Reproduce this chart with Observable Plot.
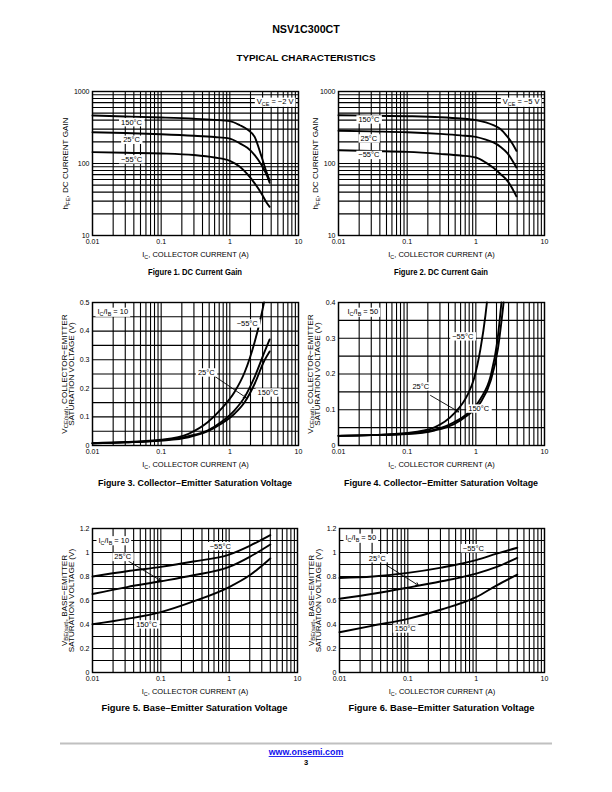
<!DOCTYPE html>
<html>
<head>
<meta charset="utf-8">
<script src="https://cdn.jsdelivr.net/npm/d3@7"></script>
<script src="https://cdn.jsdelivr.net/npm/@observablehq/plot@0.6"></script>
<style>
  html, body { margin: 0; padding: 0; background: #fff; }
  #page { position: relative; width: 612px; height: 792px; overflow: hidden; background: #fff; }
</style>
</head>
<body>
<div id="page"></div>
<script>
// ---------------- data ----------------
const icTicks = [0.01, 0.1, 1, 10];
const icTickLabels = ["0.01", "0.1", "1", "10"];
const icGrid = [0.01, 0.02, 0.03, 0.04, 0.05, 0.06, 0.07, 0.08, 0.09,
  0.1, 0.2, 0.3, 0.4, 0.5, 0.6, 0.7, 0.8, 0.9,
  1, 2, 3, 4, 5, 6, 7, 8, 9, 10];

const hfeTicks = [10, 100, 1000];
const hfeTickLabels = ["10", "100", "1000"];
const hfeGrid = [10, 20, 30, 40, 50, 60, 70, 80, 90, 100, 200, 300, 400, 500, 600, 700, 800, 900, 1000];

const vce10Ticks = [0, 0.1, 0.2, 0.3, 0.4, 0.5];
const vce10TickLabels = ["0", "0.1", "0.2", "0.3", "0.4", "0.5"];
const vce10Grid = [0, 0.05, 0.1, 0.15, 0.2, 0.25, 0.3, 0.35, 0.4, 0.45, 0.5];

const vce50Ticks = [0, 0.1, 0.2, 0.3, 0.4];
const vce50TickLabels = ["0", "0.1", "0.2", "0.3", "0.4"];
const vce50Grid = [0, 0.05, 0.1, 0.15, 0.2, 0.25, 0.3, 0.35, 0.4];

const vbeTicks = [0, 0.2, 0.4, 0.6, 0.8, 1, 1.2];
const vbeTickLabels = ["0", "0.2", "0.4", "0.6", "0.8", "1", "1.2"];
const vbeGrid = [0, 0.1, 0.2, 0.3, 0.4, 0.5, 0.6, 0.7, 0.8, 0.9, 1, 1.1, 1.2];

const tempLabels = ["150°C", "25°C", "−55°C"];

// Figure 1: hFE, VCE = -2 V
const fig1_ic = [0.01, 0.03, 0.1, 0.3, 0.6, 1, 1.4, 1.8, 2.3, 2.9, 3.4, 3.8];
const fig1_hfe_150 = [464, 450, 435, 418, 403, 387, 340, 297, 234, 124, 77, 58];
const fig1_hfe_25 = [272, 265, 255, 243, 233, 222, 190, 165, 131, 95, 71, 54];
const fig1_hfe_m55 = [144, 141, 138, 131, 121, 109, 90, 71, 53, 38, 29, 25];
const fig1_label_x = [0.037, 0.037, 0.037];
const fig1_label_y = [373, 213, 114];

// Figure 2: hFE, VCE = -5 V
const fig2_ic = [0.01, 0.03, 0.1, 0.3, 0.6, 1, 1.4, 1.8, 2.3, 2.9, 3.4, 3.9];
const fig2_hfe_150 = [469, 462, 454, 440, 422, 400, 372, 340, 300, 234, 190, 150];
const fig2_hfe_25 = [285, 279, 272, 258, 246, 234, 214, 196, 170, 138, 110, 88];
const fig2_hfe_m55 = [153, 149, 145, 136, 129, 121, 103, 87, 71, 57, 45, 35];
const fig2_label_x = [0.0277, 0.0277, 0.0277];
const fig2_label_y = [408, 222, 131];

// Figure 3: VCE(sat), IC/IB = 10
const fig3_ic_m55 = [0.01, 0.03, 0.1, 0.25, 0.48, 0.75, 1.17, 1.65, 2.3, 2.73, 3.15];
const fig3_v_m55 = [0.008, 0.012, 0.02, 0.041, 0.082, 0.128, 0.187, 0.257, 0.362, 0.432, 0.5];
const fig3_ic = [0.01, 0.03, 0.1, 0.25, 0.48, 0.75, 1.17, 1.65, 2.3, 3.2, 3.8];
const fig3_v_25 = [0.008, 0.011, 0.018, 0.033, 0.053, 0.082, 0.123, 0.17, 0.24, 0.327, 0.371];
const fig3_v_150 = [0.008, 0.011, 0.017, 0.029, 0.05, 0.076, 0.111, 0.152, 0.216, 0.298, 0.329];
const fig3_label_x = [3.6, 0.454, 1.79];
const fig3_label_y = [0.185, 0.255, 0.4266];
const fig3_arrow = [0.61, 0.241, 1.73, 0.167];

// Figure 4: VCE(sat), IC/IB = 50
const fig4_ic_m55 = [0.01, 0.03, 0.1, 0.25, 0.48, 0.75, 0.94, 1.17, 1.38, 1.45];
const fig4_v_m55 = [0.027, 0.029, 0.035, 0.051, 0.089, 0.14, 0.187, 0.271, 0.364, 0.4];
const fig4_ic_25 = [0.01, 0.03, 0.1, 0.25, 0.48, 0.75, 1.17, 1.65, 2.05, 2.36];
const fig4_v_25 = [0.027, 0.029, 0.033, 0.044, 0.065, 0.089, 0.131, 0.196, 0.29, 0.4];
const fig4_ic_150 = [0.01, 0.03, 0.1, 0.25, 0.48, 0.75, 1.17, 1.65, 2.1, 2.54];
const fig4_v_150 = [0.027, 0.029, 0.032, 0.042, 0.06, 0.084, 0.12, 0.182, 0.271, 0.4];
const fig4_label_x = [1.1, 0.158, 0.646];
const fig4_label_y = [0.103, 0.165, 0.305];
const fig4_arrow = [0.219, 0.14, 0.564, 0.094];

// Figure 5: VBE(sat), IC/IB = 10
const fig5_ic = [0.01, 0.032, 0.1, 0.3, 1, 2, 4];
const fig5_v_m55 = [0.80, 0.844, 0.88, 0.925, 0.983, 1.056, 1.145];
const fig5_v_25 = [0.654, 0.712, 0.76, 0.81, 0.88, 0.964, 1.067];
const fig5_v_150 = [0.402, 0.447, 0.503, 0.592, 0.712, 0.81, 0.95];
const fig5_label_x = [0.062, 0.0277, 0.74];
const fig5_label_y = [0.40, 0.962, 1.052];
const fig5_arrow = [0.034, 0.926, 0.099, 0.767];

// Figure 6: VBE(sat), IC/IB = 50
const fig6_ic = [0.01, 0.031, 0.1, 0.31, 1, 2, 4];
const fig6_v_m55 = [0.788, 0.80, 0.83, 0.874, 0.936, 0.99, 1.04];
const fig6_v_25 = [0.615, 0.656, 0.707, 0.76, 0.824, 0.88, 0.955];
const fig6_v_150 = [0.335, 0.391, 0.447, 0.525, 0.628, 0.726, 0.816];
const fig6_label_x = [0.0917, 0.0356, 0.91];
const fig6_label_y = [0.366, 0.952, 1.035];
const fig6_arrow = [0.049, 0.893, 0.143, 0.726];

const xTitle = "I_{C}, COLLECTOR CURRENT (A)";
const hfeTitle = ["h_{FE}, DC CURRENT GAIN"];
const vceTitle = ["V_{CE(sat)}, COLLECTOR−EMITTER", "SATURATION VOLTAGE (V)"];
const vbeTitle = ["V_{BE(sat)}, BASE−EMITTER", "SATURATION VOLTAGE (V)"];
const captions = [
  "Figure 1. DC Current Gain",
  "Figure 2. DC Current Gain",
  "Figure 3. Collector−Emitter Saturation Voltage",
  "Figure 4. Collector−Emitter Saturation Voltage",
  "Figure 5. Base−Emitter Saturation Voltage",
  "Figure 6. Base−Emitter Saturation Voltage"
];
const pageTitle = "NSV1C300CT";
const pageSubtitle = "TYPICAL CHARACTERISTICS";
const footerLink = "www.onsemi.com";
const pageNumber = "3";

// ---------------- chart definitions ----------------
const charts = [
  { frame: [92, 298, 91, 235], yType: "log", yDomain: [10, 1000], yTicks: hfeTicks, yTickLabels: hfeTickLabels, yGrid: hfeGrid,
    series: [[fig1_ic, fig1_hfe_150], [fig1_ic, fig1_hfe_25], [fig1_ic, fig1_hfe_m55]],
    lx: fig1_label_x, ly: fig1_label_y, lt: tempLabels, arrow: null,
    cond: "V_{CE} = −2 V", condAnchor: "top-right", condDx: -5, condDy: 7.5,
    yTitle: hfeTitle, yTitleDx: [-24.5], caption: captions[0], capY: 275, capLen: 94 },
  { frame: [338, 544, 91, 235], yType: "log", yDomain: [10, 1000], yTicks: hfeTicks, yTickLabels: hfeTickLabels, yGrid: hfeGrid,
    series: [[fig2_ic, fig2_hfe_150], [fig2_ic, fig2_hfe_25], [fig2_ic, fig2_hfe_m55]],
    lx: fig2_label_x, ly: fig2_label_y, lt: tempLabels, arrow: null,
    cond: "V_{CE} = −5 V", condAnchor: "top-right", condDx: -5, condDy: 7.5,
    yTitle: hfeTitle, yTitleDx: [-20.5], caption: captions[1], capY: 275, capLen: 94 },
  { frame: [92, 298, 302, 445], yType: "linear", yDomain: [0, 0.5], yTicks: vce10Ticks, yTickLabels: vce10TickLabels, yGrid: vce10Grid,
    series: [[fig3_ic, fig3_v_150], [fig3_ic, fig3_v_25], [fig3_ic_m55, fig3_v_m55]],
    lx: fig3_label_x, ly: fig3_label_y, lt: tempLabels, arrow: fig3_arrow,
    cond: "I_{C}/I_{B} = 10", condAnchor: "top-left", condDx: 5, condDy: 6.5,
    yTitle: vceTitle, yTitleDx: [-26, -18.5], caption: captions[2], capY: 486, capLen: 194 },
  { frame: [338, 544, 302, 445], yType: "linear", yDomain: [0, 0.4], yTicks: vce50Ticks, yTickLabels: vce50TickLabels, yGrid: vce50Grid,
    series: [[fig4_ic_150, fig4_v_150], [fig4_ic_25, fig4_v_25], [fig4_ic_m55, fig4_v_m55]],
    lx: fig4_label_x, ly: fig4_label_y, lt: tempLabels, arrow: fig4_arrow,
    cond: "I_{C}/I_{B} = 50", condAnchor: "top-left", condDx: 9, condDy: 6.5,
    yTitle: vceTitle, yTitleDx: [-26, -18.5], caption: captions[3], capY: 486, capLen: 194 },
  { frame: [92, 297, 528, 672], yType: "linear", yDomain: [0, 1.2], yTicks: vbeTicks, yTickLabels: vbeTickLabels, yGrid: vbeGrid,
    series: [[fig5_ic, fig5_v_150], [fig5_ic, fig5_v_25], [fig5_ic, fig5_v_m55]],
    lx: fig5_label_x, ly: fig5_label_y, lt: tempLabels, arrow: fig5_arrow,
    cond: "I_{C}/I_{B} = 10", condAnchor: "top-left", condDx: 6, condDy: 9,
    yTitle: vbeTitle, yTitleDx: [-26, -18.5], caption: captions[4], capY: 710.5, capLen: 186 },
  { frame: [339, 544, 528, 672], yType: "linear", yDomain: [0, 1.2], yTicks: vbeTicks, yTickLabels: vbeTickLabels, yGrid: vbeGrid,
    series: [[fig6_ic, fig6_v_150], [fig6_ic, fig6_v_25], [fig6_ic, fig6_v_m55]],
    lx: fig6_label_x, ly: fig6_label_y, lt: tempLabels, arrow: fig6_arrow,
    cond: "I_{C}/I_{B} = 50", condAnchor: "top-left", condDx: 6, condDy: 6.5,
    yTitle: vbeTitle, yTitleDx: [-26, -18.5], caption: captions[5], capY: 710.5, capLen: 186 }
];

// ---------------- rendering ----------------
const NS = "http://www.w3.org/2000/svg";
const FONT = '"Liberation Sans", Arial, Helvetica, sans-serif';
const page = document.getElementById("page");
const ident = d => d;
const boxed = new Set([...tempLabels, ...charts.map(c => c.cond)]);

function subscripts(t) {
  const s = t.textContent;
  if (!s.includes("_{")) return;
  while (t.firstChild) t.removeChild(t.firstChild);
  let shift = 0;
  for (const part of s.split(/(_\{[^}]*\})/)) {
    if (!part) continue;
    const ts = document.createElementNS(NS, "tspan");
    if (part.startsWith("_{")) {
      ts.textContent = part.slice(2, -1);
      ts.setAttribute("font-size", "72%");
      ts.setAttribute("dy", String(1.8 - shift));
      shift = 1.8;
    } else {
      ts.textContent = part;
      if (shift) { ts.setAttribute("dy", String(-shift)); shift = 0; }
    }
    t.appendChild(ts);
  }
}

function post(svg) {
  svg.querySelectorAll("text").forEach(t => {
    const s = t.textContent;
    const box = boxed.has(s);
    subscripts(t);
    if (box) {
      const bb = t.getBBox();
      const r = document.createElementNS(NS, "rect");
      r.setAttribute("x", bb.x - 2);
      r.setAttribute("y", bb.y + 0.3);
      r.setAttribute("width", bb.width + 4);
      r.setAttribute("height", bb.height - 0.6);
      r.setAttribute("fill", "#fff");
      r.setAttribute("stroke", "none");
      const tr = t.getAttribute("transform");
      if (tr) r.setAttribute("transform", tr);
      t.parentNode.insertBefore(r, t);
    }
  });
}

const xLabelMap = new Map(icTicks.map((v, i) => [v, icTickLabels[i]]));

for (const c of charts) {
  const [L, R, T, B] = c.frame;
  const ml = 48, mr = 12, mt = 12, mb = 30;
  const width = R - L + ml + mr, height = B - T + mt + mb;
  const rows = c.series.flatMap(([xs, ys], k) => xs.map((x, i) => ({k, x, y: ys[i]})));
  const labelRows = c.lt.map((t, i) => ({t, x: c.lx[i], y: c.ly[i]}));
  const yLabelMap = new Map(c.yTicks.map((v, i) => [v, c.yTickLabels[i]]));
  const marks = [
    Plot.ruleX(icGrid, {stroke: "#000", strokeWidth: 1.1}),
    Plot.ruleY(c.yGrid, {stroke: "#000", strokeWidth: 1.1}),
    Plot.frame({stroke: "#000", strokeWidth: 1.4}),
    Plot.line(rows, {x: "x", y: "y", z: "k", stroke: "#000", strokeWidth: 1.9, curve: "monotone-x"})
  ];
  if (c.arrow) {
    marks.push(Plot.arrow([c.arrow], {x1: d => d[0], y1: d => d[1], x2: d => d[2], y2: d => d[3],
      stroke: "#000", strokeWidth: 0.9, headLength: 5}));
  }
  marks.push(Plot.text(labelRows, {x: "x", y: "y", text: "t", fontSize: 7.5, fill: "#000"}));
  marks.push(Plot.text([c.cond], {text: ident, frameAnchor: c.condAnchor,
    textAnchor: c.condAnchor === "top-right" ? "end" : "start", dx: c.condDx, dy: c.condDy, fontSize: 7.5, fill: "#000"}));
  marks.push(Plot.text([xTitle], {text: ident, frameAnchor: "bottom", dy: 21.5, lineAnchor: "bottom", fontSize: 7.5, fill: "#000"}));
  c.yTitle.forEach((t, i) => {
    marks.push(Plot.text([t], {text: ident, frameAnchor: "left", rotate: -90, dx: c.yTitleDx[i],
      textAnchor: "middle", lineAnchor: "bottom", fontSize: 8.1, fill: "#000"}));
  });
  const svg = Plot.plot({
    width, height,
    marginLeft: ml, marginRight: mr, marginTop: mt, marginBottom: mb,
    style: {fontFamily: FONT, fontSize: "7px", color: "#000", background: "transparent", overflow: "visible"},
    x: {type: "log", domain: [0.01, 10], ticks: icTicks, tickFormat: d => xLabelMap.get(d), tickSize: 0, tickPadding: 4, label: null},
    y: {type: c.yType, domain: c.yDomain, ticks: c.yTicks, tickFormat: d => yLabelMap.get(d), tickSize: 0, tickPadding: 3, label: null},
    marks
  });
  svg.style.position = "absolute";
  svg.style.left = (L - ml) + "px";
  svg.style.top = (T - mt) + "px";
  svg.style.maxWidth = "none";
  page.appendChild(svg);
  post(svg);
}

// ---------------- page text ----------------
const ps = document.createElementNS(NS, "svg");
ps.setAttribute("width", 612);
ps.setAttribute("height", 792);
ps.style.position = "absolute";
ps.style.left = "0px";
ps.style.top = "0px";
ps.setAttribute("font-family", FONT);
function addText(str, x, y, size, weight, fill, extra) {
  const t = document.createElementNS(NS, "text");
  t.setAttribute("x", x);
  t.setAttribute("y", y);
  t.setAttribute("font-size", size);
  t.setAttribute("font-weight", weight);
  t.setAttribute("fill", fill);
  t.setAttribute("text-anchor", "middle");
  if (extra) for (const k in extra) t.setAttribute(k, extra[k]);
  t.textContent = str;
  ps.appendChild(t);
  return t;
}
addText(pageTitle, 306, 33, 10.7, "bold", "#000");
addText(pageSubtitle, 306, 61, 9.9, "bold", "#000");
charts.forEach(c => addText(c.caption, (c.frame[0] + c.frame[1]) / 2, c.capY, 8.2, "bold", "#000",
  {textLength: c.capLen, lengthAdjust: "spacingAndGlyphs"}));
const hr = document.createElementNS(NS, "line");
hr.setAttribute("x1", 60); hr.setAttribute("x2", 552);
hr.setAttribute("y1", 743.5); hr.setAttribute("y2", 743.5);
hr.setAttribute("stroke", "#c0c0c0"); hr.setAttribute("stroke-width", 1.8);
ps.appendChild(hr);
addText(footerLink, 306, 755, 8.9, "bold", "#1010ee", {"text-decoration": "underline"});
addText(pageNumber, 306, 764.5, 7.5, "bold", "#000");
page.insertBefore(ps, page.firstChild);
</script>
</body>
</html>
